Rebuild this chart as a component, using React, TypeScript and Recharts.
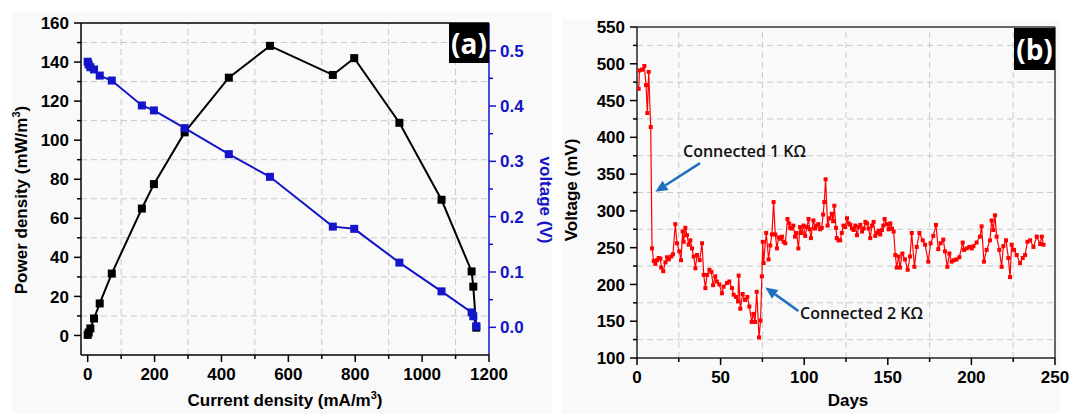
import React from 'react';
import { LineChart, Line, XAxis, YAxis, ReferenceLine } from 'recharts';

// ---- panel (a): polarization / power curve ----
const currentDensity = [0, 3, 8, 19, 36, 72, 162, 198, 290, 422, 545, 733, 797, 932, 1058, 1148, 1153, 1162];
const powerDensity = [0.3, 1.5, 3.6, 8.7, 16.4, 31.7, 65, 77.5, 104, 132, 148.3, 133.4, 142, 108.9, 69.5, 32.8, 25, 4];
const cellVoltage = [0.48, 0.475, 0.47, 0.466, 0.455, 0.446, 0.401, 0.392, 0.36, 0.313, 0.272, 0.182, 0.178, 0.117, 0.065, 0.027, 0.02, 0.002];

const aTicksX = [0, 100, 200, 300, 400, 500, 600, 700, 800, 900, 1000, 1100, 1200];
const aTicksLeft = [0, 10, 20, 30, 40, 50, 60, 70, 80, 90, 100, 110, 120, 130, 140, 150, 160];
const aTicksRight = [0, 0.05, 0.1, 0.15, 0.2, 0.25, 0.3, 0.35, 0.4, 0.45, 0.5];
const aGridX = [100, 300, 500, 700, 900, 1100];
const aGridY = [10, 30, 50, 70, 90, 110, 130, 150];

// ---- panel (b): voltage over days ----
const days = [
  1, 1.5, 3, 4.4, 5.4, 6.2, 7, 8.2, 9, 10, 11, 12, 13, 14, 14.5, 15.7, 17, 18, 19, 20.5,
  21.5, 22.9, 23.9, 25.3, 26.3, 27.3, 27.9, 28.9, 29.9, 30.9, 31.9, 32.9, 33.9, 34.9, 35.9, 37.5, 38.9, 39.9, 40.9, 41.9,
  43.3, 44.5, 45.5, 46.8, 47.8, 49.2, 50.8, 51.8, 53.8, 55.2, 56.8, 57.8, 59.2, 60.4, 60.8, 61.8, 63.2, 64.6, 66, 67.2,
  68.6, 69.6, 70.6, 71.6, 73, 73.9, 74.7, 75.2, 75.7, 77.3, 78.7, 79.7, 80.7, 81.7, 82.7, 83.7, 84.7, 85.7, 86.7, 87.7,
  88.7, 90, 91, 91.6, 92.5, 93.5, 94.5, 95.5, 96.5, 97.5, 98.5, 99.6, 100.6, 101.6, 102.6, 103.3, 104, 105.5, 106.5, 107.5,
  108.5, 109.5, 110.5, 111.3, 112, 112.8, 114, 115.2, 116.5, 117.3, 118, 119, 119.5, 120.5, 121.5, 122.5, 123.5, 124.5, 125.6, 126.6,
  127.6, 128.6, 129.6, 130.6, 131.6, 132.6, 133.6, 134.6, 135.6, 136.6, 137.6, 138.5, 139.5, 140.5, 141.5, 142.5, 143.5, 144.5, 145.5, 146.5,
  147.3, 148.1, 149.5, 150.5, 151.5, 152.5, 153.5, 154.5, 155.3, 156.5, 157.3, 158.7, 160.3, 161.9, 163.3, 164.3, 165.9, 167.3, 168.9, 170.9,
  172.3, 174.2, 175.6, 177.2, 178.8, 180.2, 181.6, 183.2, 184.2, 185.6, 186.8, 188.2, 189.6, 191.1, 192.8, 194.8, 195.6, 197.2, 198.8, 200.2,
  201.2, 203.1, 205.1, 206.1, 207.5, 209.1, 211.1, 212.1, 213.1, 214.1, 215.1, 216.7, 218.1, 219.1, 220.7, 222.1, 223.1, 224.1, 225.5, 227.1,
  229.1, 230.7, 232.1, 233.5, 235.1, 237.1, 239.1, 241.1, 242.1, 243.1,
];
const voltageMv = [
  466, 491, 492, 497, 471, 433, 489, 414, 249, 232, 228, 233, 236, 235, 223, 218, 230, 237, 234, 238,
  241, 282, 256, 245, 233, 272, 258, 277, 267, 254, 260, 249, 238, 222, 240, 233, 256, 213, 195, 213,
  220, 217, 199, 211, 204, 200, 188, 197, 202, 204, 195, 186, 183, 177, 212, 167, 187, 179, 183, 170,
  149, 160, 149, 190, 128, 151, 211, 258, 229, 270, 234, 253, 268, 312, 268, 249, 264, 262, 265, 258,
  256, 289, 283, 277, 276, 280, 265, 270, 249, 278, 270, 280, 266, 278, 289, 275, 263, 287, 276, 280,
  282, 275, 277, 295, 312, 343, 280, 290, 296, 286, 307, 277, 263, 260, 260, 270, 280, 278, 290, 283,
  281, 276, 274, 280, 267, 278, 281, 272, 276, 285, 283, 276, 263, 280, 285, 266, 270, 273, 268, 274,
  280, 289, 282, 275, 283, 276, 272, 240, 223, 238, 223, 242, 234, 220, 238, 270, 224, 251, 270, 260,
  254, 231, 256, 266, 281, 248, 256, 261, 245, 224, 242, 231, 233, 234, 237, 257, 247, 249, 251, 249,
  252, 257, 265, 279, 231, 247, 260, 287, 274, 294, 265, 247, 224, 252, 260, 236, 210, 254, 247, 240,
  229, 236, 240, 258, 260, 251, 265, 255, 265, 254,
];

const bTicksX = [0, 25, 50, 75, 100, 125, 150, 175, 200, 225, 250];
const bTicksY = [100, 125, 150, 175, 200, 225, 250, 275, 300, 325, 350, 375, 400, 425, 450, 475, 500, 525, 550];
const bGridX = [25, 75, 125, 175, 225];
const bGridY = [125, 175, 225, 275, 325, 375, 425, 475, 525];

const polarData = currentDensity.map((c, i) => ({ c, p: powerDensity[i], v: cellVoltage[i] }));
const dayData = days.map((d, i) => ({ d, mv: voltageMv[i] }));

const FONT = '"Liberation Sans", Arial, sans-serif';
const NOTE_FONT = '"Open Sans", "Noto Sans", sans-serif';
const BLUE = '#1414c8';
const ARROW = '#1f6fbf';
const GRID = '#c9c9c9';

type Side = 'left' | 'right' | 'bottom';

const makeTick = (side: Side, isMajor: (v: number) => boolean, color: string, fmt: (v: number) => string) =>
  (props: any) => {
    const { x, y, payload } = props;
    const v = payload.value as number;
    const major = isMajor(v);
    const len = major ? 7 : 4;
    const txt = { fill: color, fontSize: 17, fontWeight: 700, fontFamily: FONT };
    if (side === 'left') {
      return (
        <g>
          <line x1={x} y1={y} x2={x - len} y2={y} stroke={color} strokeWidth={1.5} />
          {major && <text x={x - 12} y={y} dy="0.36em" textAnchor="end" {...txt}>{fmt(v)}</text>}
        </g>
      );
    }
    if (side === 'right') {
      return (
        <g>
          <line x1={x} y1={y} x2={x + len} y2={y} stroke={color} strokeWidth={1.5} />
          {major && <text x={x + 11} y={y} dy="0.36em" textAnchor="start" {...txt}>{fmt(v)}</text>}
        </g>
      );
    }
    return (
      <g>
        <line x1={x} y1={y} x2={x} y2={y + len} stroke={color} strokeWidth={1.5} />
        {major && <text x={x} y={y + 13} dy="0.72em" textAnchor="middle" {...txt}>{fmt(v)}</text>}
      </g>
    );
  };

const Arrow = (p: any) => {
  const { x1, y1, x2, y2 } = p;
  const ang = Math.atan2(y2 - y1, x2 - x1);
  const L = 12;
  const W = 5.5;
  const bx = x2 - L * Math.cos(ang);
  const by = y2 - L * Math.sin(ang);
  const pts = `${x2},${y2} ${bx + W * Math.sin(ang)},${by - W * Math.cos(ang)} ${bx - W * Math.sin(ang)},${by + W * Math.cos(ang)}`;
  return (
    <g>
      <line x1={x1} y1={y1} x2={bx} y2={by} stroke={ARROW} strokeWidth={2.5} />
      <polygon points={pts} fill={ARROW} />
    </g>
  );
};

const squareDot = (size: number, color: string) => (p: any) => (
  <rect key={`d-${p.index}`} x={p.cx - size / 2} y={p.cy - size / 2} width={size} height={size} fill={color} />
);

const rotated = (left: number, top: number, deg: number): React.CSSProperties => ({
  position: 'absolute',
  left,
  top,
  transform: `translate(-50%, -50%) rotate(${deg}deg)`,
  whiteSpace: 'nowrap',
  fontFamily: FONT,
  fontWeight: 700,
  fontSize: 17,
  lineHeight: '18px',
});

const supStyle: React.CSSProperties = { fontSize: 11, lineHeight: 0, verticalAlign: 'super' };

const badge = (left: number, top: number, w: number, h: number): React.CSSProperties => ({
  position: 'absolute',
  left,
  top,
  width: w,
  height: h,
  background: '#000',
  color: '#fff',
  fontFamily: NOTE_FONT,
  fontWeight: 700,
  fontSize: 28,
  lineHeight: `${h}px`,
  textAlign: 'center',
});

export default function App() {
  return (
    <div style={{ position: 'relative', width: 1070, height: 414, background: '#fff', overflow: 'hidden' }}>
      <style>{'html, body { margin: 0; padding: 0; overflow: hidden; background: #fff; }'}</style>
      <div style={{ position: 'absolute', left: 12, top: 12, width: 540, height: 402, background: '#f9f9f9' }} />
      <div style={{ position: 'absolute', left: 562, top: 19, width: 498, height: 395, background: '#f9f9f9' }} />

      {/* (a) power density + voltage vs current density */}
      <div style={{ position: 'absolute', left: 0, top: 0 }}>
        <LineChart width={560} height={414} data={polarData} margin={{ top: 23, right: 11, left: 21, bottom: 19 }}>
          <XAxis
            dataKey="c" type="number" domain={[-20, 1200]} ticks={aTicksX} interval={0}
            height={40} tickSize={0} tickMargin={0} tickLine={false}
            axisLine={{ stroke: '#000', strokeWidth: 1.5 }}
            tick={makeTick('bottom', (v) => v % 200 === 0, '#000', (v) => String(v))}
            allowDataOverflow
          />
          <YAxis
            yAxisId="left" domain={[-10, 160]} ticks={aTicksLeft} interval={0}
            width={60} tickSize={0} tickMargin={0} tickLine={false}
            axisLine={{ stroke: '#000', strokeWidth: 1.5 }}
            tick={makeTick('left', (v) => v % 20 === 0, '#000', (v) => String(v))}
            allowDataOverflow
          />
          <YAxis
            yAxisId="right" orientation="right" domain={[-0.05, 0.55]} ticks={aTicksRight} interval={0}
            width={60} tickSize={0} tickMargin={0} tickLine={false}
            axisLine={{ stroke: BLUE, strokeWidth: 1.5 }}
            tick={makeTick('right', (v) => Math.round(v * 100) % 10 === 0, BLUE, (v) => v.toFixed(1))}
            allowDataOverflow
          />
          {aGridX.map((g) => (
            <ReferenceLine key={`ax${g}`} yAxisId="left" x={g} stroke={GRID} strokeDasharray="6 4" />
          ))}
          {aGridY.map((g) => (
            <ReferenceLine key={`ay${g}`} yAxisId="left" y={g} stroke={GRID} strokeDasharray="6 4" />
          ))}
          <ReferenceLine yAxisId="left" y={160} stroke="#000" strokeWidth={1.5} />
          <Line
            yAxisId="left" dataKey="p" type="linear" stroke="#000" strokeWidth={2}
            dot={squareDot(8, '#000')} isAnimationActive={false}
          />
          <Line
            yAxisId="right" dataKey="v" type="linear" stroke={BLUE} strokeWidth={2}
            dot={squareDot(8, BLUE)} isAnimationActive={false}
          />
        </LineChart>
      </div>
      <div style={rotated(22, 200, -90)}>Power density (mW/m<sup style={supStyle}>3</sup>)</div>
      <div style={rotated(285, 401, 0)}>Current density (mA/m<sup style={supStyle}>3</sup>)</div>
      <div style={{ ...rotated(545, 200, 90), color: BLUE }}>voltage (V)</div>
      <div style={badge(449, 23, 40, 40)}>(a)</div>

      {/* (b) voltage vs days */}
      <div style={{ position: 'absolute', left: 560, top: 0 }}>
        <LineChart width={510} height={414} data={dayData} margin={{ top: 27, right: 15, left: 17, bottom: 16 }} style={{ overflow: 'visible' }}>
          <XAxis
            dataKey="d" type="number" domain={[0, 250]} ticks={bTicksX} interval={0}
            height={40} tickSize={0} tickMargin={0} tickLine={false}
            axisLine={{ stroke: '#222', strokeWidth: 1.5 }}
            tick={makeTick('bottom', (v) => v % 50 === 0, '#000', (v) => String(v))}
            allowDataOverflow
          />
          <YAxis
            domain={[100, 550]} ticks={bTicksY} interval={0}
            width={60} tickSize={0} tickMargin={0} tickLine={false}
            axisLine={{ stroke: '#222', strokeWidth: 1.5 }}
            tick={makeTick('left', (v) => v % 50 === 0, '#000', (v) => String(v))}
            allowDataOverflow
          />
          {bGridX.map((g) => (
            <ReferenceLine key={`bx${g}`} x={g} stroke={GRID} strokeDasharray="6 4" />
          ))}
          {bGridY.map((g) => (
            <ReferenceLine key={`by${g}`} y={g} stroke={GRID} strokeDasharray="6 4" />
          ))}
          <ReferenceLine y={550} stroke="#333" strokeWidth={1.5} />
          <ReferenceLine x={250} stroke="#333" strokeWidth={1.5} />
          <ReferenceLine segment={[{ x: 37.7, y: 365 }, { x: 11, y: 326 }]} shape={Arrow} />
          <ReferenceLine segment={[{ x: 96.5, y: 164 }, { x: 76.8, y: 196 }]} shape={Arrow} />
          <Line
            dataKey="mv" type="linear" stroke="#ff0000" strokeWidth={1.2}
            dot={squareDot(4, '#ff0000')} isAnimationActive={false}
          />
        </LineChart>
      </div>
      <div style={rotated(572, 190, -90)}>Voltage (mV)</div>
      <div style={rotated(848, 401, 0)}>Days</div>
      <div style={{ position: 'absolute', left: 683, top: 140, fontFamily: NOTE_FONT, fontWeight: 600, fontSize: 16, color: '#111', whiteSpace: 'nowrap' }}>
        Connected 1 KΩ
      </div>
      <div style={{ position: 'absolute', left: 800, top: 302, fontFamily: NOTE_FONT, fontWeight: 600, fontSize: 16, color: '#111', whiteSpace: 'nowrap' }}>
        Connected 2 KΩ
      </div>
      <div style={badge(1014, 28, 41, 42)}>(b)</div>
    </div>
  );
}
